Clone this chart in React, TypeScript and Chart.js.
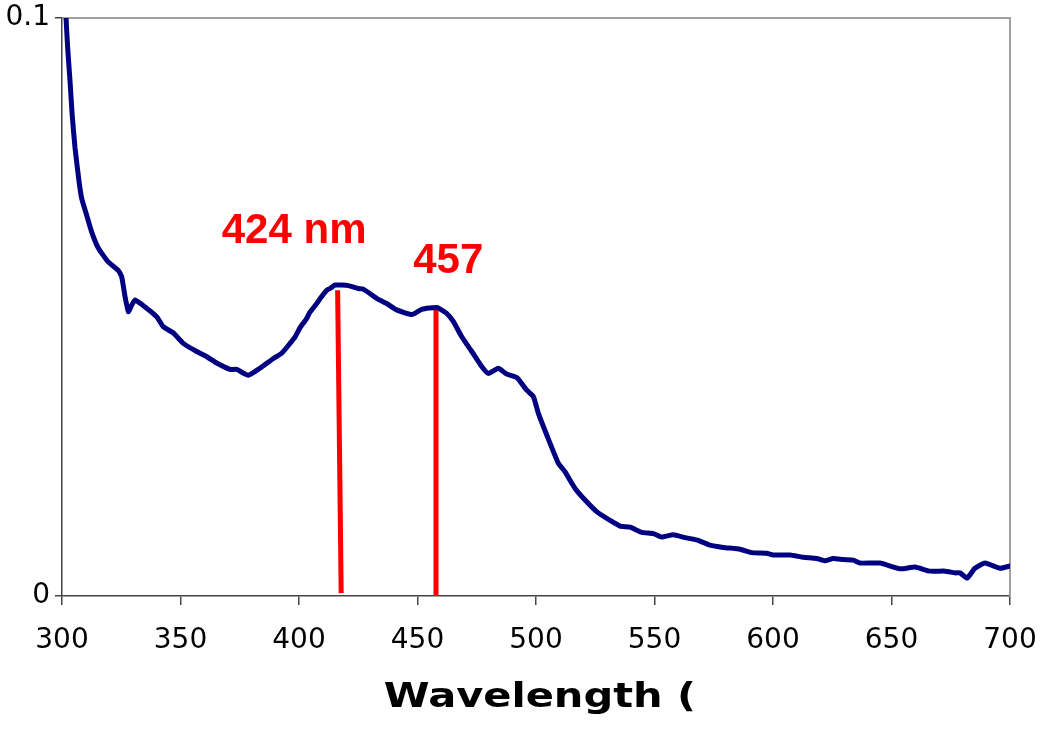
import React, { useEffect, useRef } from "react";
import { Chart, registerables } from "chart.js";

Chart.register(...registerables);

// Spectrum (wavelength in nm, absorbance)
const wavelengths = [
  301.7, 302.4, 303.4, 304.3, 305.5, 307.2, 308.3, 310.4, 312.5, 315.3,
  319.5, 323.8, 325.2, 326.6, 328.0, 329.4, 330.8, 335.7, 340.0, 342.7,
  347.0, 351.2, 356.8, 361.1, 365.3, 370.9, 373.7, 378.6, 383.5, 389.2,
  392.7, 396.2, 398.3, 400.4, 403.2, 404.6, 407.5, 409.0, 411.7, 413.1,
  415.2, 420.8, 425.0, 427.1, 433.5, 437.0, 441.2, 447.6, 451.8, 458.1,
  462.3, 465.1, 468.6, 472.9, 477.1, 479.9, 484.1, 487.6, 491.9, 496.1,
  498.9, 501.0, 504.5, 509.4, 512.2, 516.5, 520.7, 525.6, 531.2, 535.4,
  539.7, 544.6, 549.5, 553.0, 557.9, 562.9, 567.8, 573.4, 579.0, 586.1,
  591.0, 597.3, 600.1, 607.2, 612.8, 618.4, 621.9, 625.4, 629.7, 633.9,
  636.7, 645.1, 653.6, 659.9, 666.2, 672.6, 676.8, 678.9, 681.9, 685.2,
  689.5, 695.8, 700.0,
];
const absorbance = [
  0.1, 0.0948, 0.089, 0.0832, 0.0775, 0.0717, 0.0688, 0.0659, 0.063, 0.0602,
  0.0578, 0.0563, 0.0552, 0.0518, 0.0492, 0.0503, 0.0512, 0.0498, 0.0483, 0.0466,
  0.0455, 0.0437, 0.0423, 0.0414, 0.0403, 0.0392, 0.0392, 0.0382, 0.0394, 0.0411,
  0.042, 0.0437, 0.0448, 0.0464, 0.048, 0.0491, 0.0506, 0.0515, 0.0529, 0.0532,
  0.0538, 0.0537, 0.0532, 0.0531, 0.0513, 0.0506, 0.0495, 0.0487, 0.0496, 0.0499,
  0.0489, 0.0475, 0.0449, 0.0423, 0.0397, 0.0385, 0.0394, 0.0384, 0.0378, 0.0356,
  0.0345, 0.0316, 0.0279, 0.023, 0.0215, 0.0186, 0.0166, 0.0146, 0.0131, 0.0121,
  0.0119, 0.011, 0.0108, 0.0102, 0.0106, 0.0101, 0.0097, 0.0088, 0.0084, 0.0081,
  0.0075, 0.0074, 0.0071, 0.0071, 0.0067, 0.0065, 0.0061, 0.0065, 0.0063, 0.0062,
  0.0057, 0.0057, 0.0047, 0.005, 0.0043, 0.0043, 0.004, 0.004, 0.0031, 0.0048,
  0.0057, 0.0048, 0.0052,
];

// Peak marker lines (red)
const peak1X = [416.3, 417.8];
const peak1Y = [0.0529, 0.0005];
const peak2X = [457.8, 457.8];
const peak2Y = [0.0496, 0.0];

// Peak labels
const peakLabels = ["424 nm", "457"];
const peakLabelX = [367.4, 448.2];
const peakLabelY = [0.061, 0.0559];

// Axes
const xTickValues = [300, 350, 400, 450, 500, 550, 600, 650, 700];
const yTickValues = [0, 0.1];
const yTickLabels = ["0", "0.1"];
const xAxisTitle = "Wavelength (";

const toPoints = (xs: number[], ys: number[]) => xs.map((x, i) => ({ x, y: ys[i] }));

const framePlugin = {
  id: "frameAndText",
  beforeDatasetsDraw(chart: any) {
    const { ctx, chartArea } = chart;
    ctx.save();
    ctx.strokeStyle = "#a0a0a0";
    ctx.lineWidth = 2;
    ctx.beginPath();
    ctx.moveTo(chartArea.left, chartArea.top);
    ctx.lineTo(chartArea.right, chartArea.top);
    ctx.lineTo(chartArea.right, chartArea.bottom);
    ctx.stroke();
    ctx.restore();
  },
  afterDraw(chart: any) {
    const { ctx } = chart;
    const xs = chart.scales.x;
    const ys = chart.scales.y;
    ctx.save();
    // peak labels
    ctx.fillStyle = "#ff0000";
    ctx.font = "bold 42px 'Liberation Sans', Arial, sans-serif";
    ctx.textAlign = "left";
    ctx.textBaseline = "alphabetic";
    peakLabels.forEach((t, i) => {
      const px = xs.getPixelForValue(peakLabelX[i]);
      const py = ys.getPixelForValue(peakLabelY[i]);
      const m = ctx.measureText(t);
      ctx.fillText(t, px + m.actualBoundingBoxLeft, py);
    });
    // x axis title (stretched like the original)
    ctx.fillStyle = "#000000";
    ctx.font = "bold 34px 'DejaVu Sans', Verdana, sans-serif";
    const m = ctx.measureText(xAxisTitle);
    const vis = m.actualBoundingBoxLeft + m.actualBoundingBoxRight;
    const targetLeft = 385;
    const targetW = 308;
    const sx = targetW / vis;
    ctx.translate(targetLeft, 707);
    ctx.scale(sx, 1);
    ctx.fillText(xAxisTitle, m.actualBoundingBoxLeft, 0);
    ctx.restore();
  },
};

export default function App() {
  const ref = useRef<HTMLCanvasElement | null>(null);
  useEffect(() => {
    if (!ref.current) return;
    const chart = new Chart(ref.current, {
      type: "line",
      data: {
        datasets: [
          {
            data: toPoints(wavelengths, absorbance),
            borderColor: "#000080",
            borderWidth: 5,
            pointRadius: 0,
            tension: 0.15,
            fill: false,
            borderJoinStyle: "round",
            borderCapStyle: "round",
            order: 0,
          },
          {
            data: toPoints(peak1X, peak1Y),
            borderColor: "#ff0000",
            borderWidth: 5,
            pointRadius: 0,
            fill: false,
            order: 1,
          },
          {
            data: toPoints(peak2X, peak2Y),
            borderColor: "#ff0000",
            borderWidth: 5,
            pointRadius: 0,
            fill: false,
            order: 1,
          },
        ],
      } as any,
      options: {
        responsive: false,
        animation: false,
        devicePixelRatio: 1,
        layout: { padding: { top: 18, right: 40, left: 0, bottom: 0 } },
        plugins: { legend: { display: false }, tooltip: { enabled: false }, title: { display: false } },
        scales: {
          x: {
            type: "linear",
            min: 300,
            max: 700,
            afterBuildTicks: (scale: any) => {
              scale.ticks = xTickValues.map((v) => ({ value: v }));
            },
            afterFit: (scale: any) => {
              scale.height = 137;
              scale.paddingLeft = 0;
              scale.paddingRight = 0;
            },
            ticks: {
              color: "#000",
              font: { family: "'DejaVu Sans', Verdana, sans-serif", size: 28 },
              padding: 19,
              maxRotation: 0,
              autoSkip: false,
            },
            grid: {
              display: true,
              drawOnChartArea: false,
              drawTicks: true,
              tickLength: 9,
              color: "#444",
              lineWidth: 1.5,
            },
            border: { display: true, color: "#444", width: 1.5 },
          },
          y: {
            type: "linear",
            min: 0,
            max: 0.1,
            afterBuildTicks: (scale: any) => {
              scale.ticks = yTickValues.map((v) => ({ value: v }));
            },
            afterFit: (scale: any) => {
              scale.width = 62;
              scale.paddingTop = 0;
              scale.paddingBottom = 0;
            },
            ticks: {
              color: "#000",
              font: { family: "'DejaVu Sans', Verdana, sans-serif", size: 28 },
              padding: 5,
              autoSkip: false,
              callback: (value: any) => {
                const i = yTickValues.indexOf(Number(value));
                return i >= 0 ? yTickLabels[i] : "";
              },
            },
            grid: {
              display: true,
              drawOnChartArea: false,
              drawTicks: true,
              tickLength: 7,
              color: "#444",
              lineWidth: 1.5,
            },
            border: { display: true, color: "#444", width: 1.5 },
          },
        },
      } as any,
      plugins: [framePlugin],
    });
    return () => chart.destroy();
  }, []);
  return (
    <div style={{ position: "absolute", left: 0, top: 0, width: 1050, height: 733, background: "#fff" }}>
      <canvas ref={ref} width={1050} height={733} />
    </div>
  );
}
